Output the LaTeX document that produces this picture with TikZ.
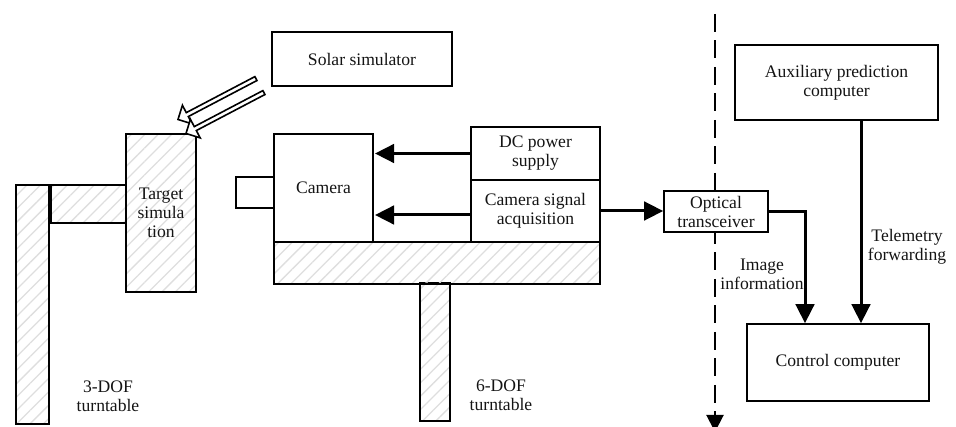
\documentclass[tikz,border=0pt]{standalone}
\usepackage{fontspec}
\setmainfont{Liberation Serif}
\usepackage{xcolor}
\usepackage{tikz}
\usetikzlibrary{shapes.arrows, arrows.meta, patterns.meta, calc}
\definecolor{mydark}{RGB}{20,20,20}
\definecolor{myhatch}{RGB}{222,222,222}
\tikzset{
  block/.style={rectangle, draw=black, fill=white, line width=1.6pt, inner sep=0pt,
    align=center, font=\fontsize{17.6}{19}\selectfont, text=mydark},
  hatchblock/.style={block, pattern={Lines[angle=45, distance=9.5pt, line width=1.3pt]},
    pattern color=myhatch},
  label/.style={align=center, font=\fontsize{17.6}{19}\selectfont, text=mydark, inner sep=0pt},
  flow/.style={-{Triangle[length=19pt, width=18.5pt]}, line width=3pt, color=black},
  dashline/.style={-{Triangle[length=17pt, width=17pt]}, line width=2pt, color=black,
    dash pattern=on 18pt off 8.5pt},
  beam/.style={single arrow, draw=black, fill=white, line width=1.6pt, inner sep=0pt,
    minimum width=21pt, minimum height=88pt, single arrow head extend=3pt,
    anchor=tip, rotate=207.7}
}
\begin{document}
\begin{tikzpicture}[x=1pt, y=-1pt]
  \useasboundingbox (0, 0) rectangle (956, 427);

  % ── Boundary line ──────────────────────────────────────────────────
  \coordinate (bound1) at (715, 14);
  \coordinate (bound2) at (715, 432);
  \draw[dashline] (bound1) -- (bound2);

  % ── Target side ────────────────────────────────────────────────────
  \node[hatchblock, minimum width=33pt, minimum height=239pt] (turn3) at (32.5, 304.5) {};
  \node[hatchblock, minimum width=75pt, minimum height=38pt] (arm) at (88.5, 204) {};
  \node[hatchblock, minimum width=70pt, minimum height=158pt] (target) at (161, 213)
    {Target\\simula\\tion};
  \node[label] (turn3txt) at (108, 396) {3-DOF\\turntable};

  % ── Solar simulator and its beams ──────────────────────────────────
  \node[block, minimum width=180pt, minimum height=54pt] (solar) at (362, 59) {Solar simulator};
  \node[beam] (beam1) at (177, 120) {};
  \node[beam] (beam2) at (185, 134) {};

  % ── Camera side ────────────────────────────────────────────────────
  \node[hatchblock, minimum width=30pt, minimum height=138pt] (turn6) at (435, 352) {};
  \node[hatchblock, minimum width=326pt, minimum height=42pt] (plate) at (437, 263) {};
  \node[block, minimum width=38pt, minimum height=31pt] (lens) at (255, 192.5) {};
  \node[block, minimum width=99pt, minimum height=108pt] (camera) at (323.5, 188) {Camera};
  \node[block, minimum width=129pt, minimum height=53pt] (power) at (535.5, 153.5) {DC power\\supply};
  \node[block, minimum width=129pt, minimum height=62pt] (acq) at (535.5, 211) {Camera signal\\acquisition};
  \node[label] (turn6txt) at (501, 395) {6-DOF\\turntable};
  % camera feeds
  \draw[flow] (power.west) -- (power.west -| 375, 0);
  \draw[flow] ([yshift=-4pt]acq.west) -- ([yshift=-4pt]acq.west -| 375, 0);

  % ── Ground side ────────────────────────────────────────────────────
  \node[block, minimum width=104pt, minimum height=41pt] (optical) at (716, 211.5) {Optical\\transceiver};
  \node[block, minimum width=203pt, minimum height=75pt] (aux) at (836.5, 82.5) {Auxiliary prediction\\computer};
  \node[block, minimum width=182pt, minimum height=77pt] (control) at (838, 362.5) {Control computer};
  \draw[flow] (acq.east) -- (acq.east -| optical.west);
  \draw[flow] (optical.east) -| ([xshift=-33pt]control.north);
  \draw[flow] ([xshift=24.5pt]aux.south) -- ([xshift=23pt]control.north);
  \node[label] (imagetxt) at (762, 274) {Image\\information};
  \node[label] (telemetrytxt) at (907, 247) {Telemetry\\forwarding};
\end{tikzpicture}
\end{document}
